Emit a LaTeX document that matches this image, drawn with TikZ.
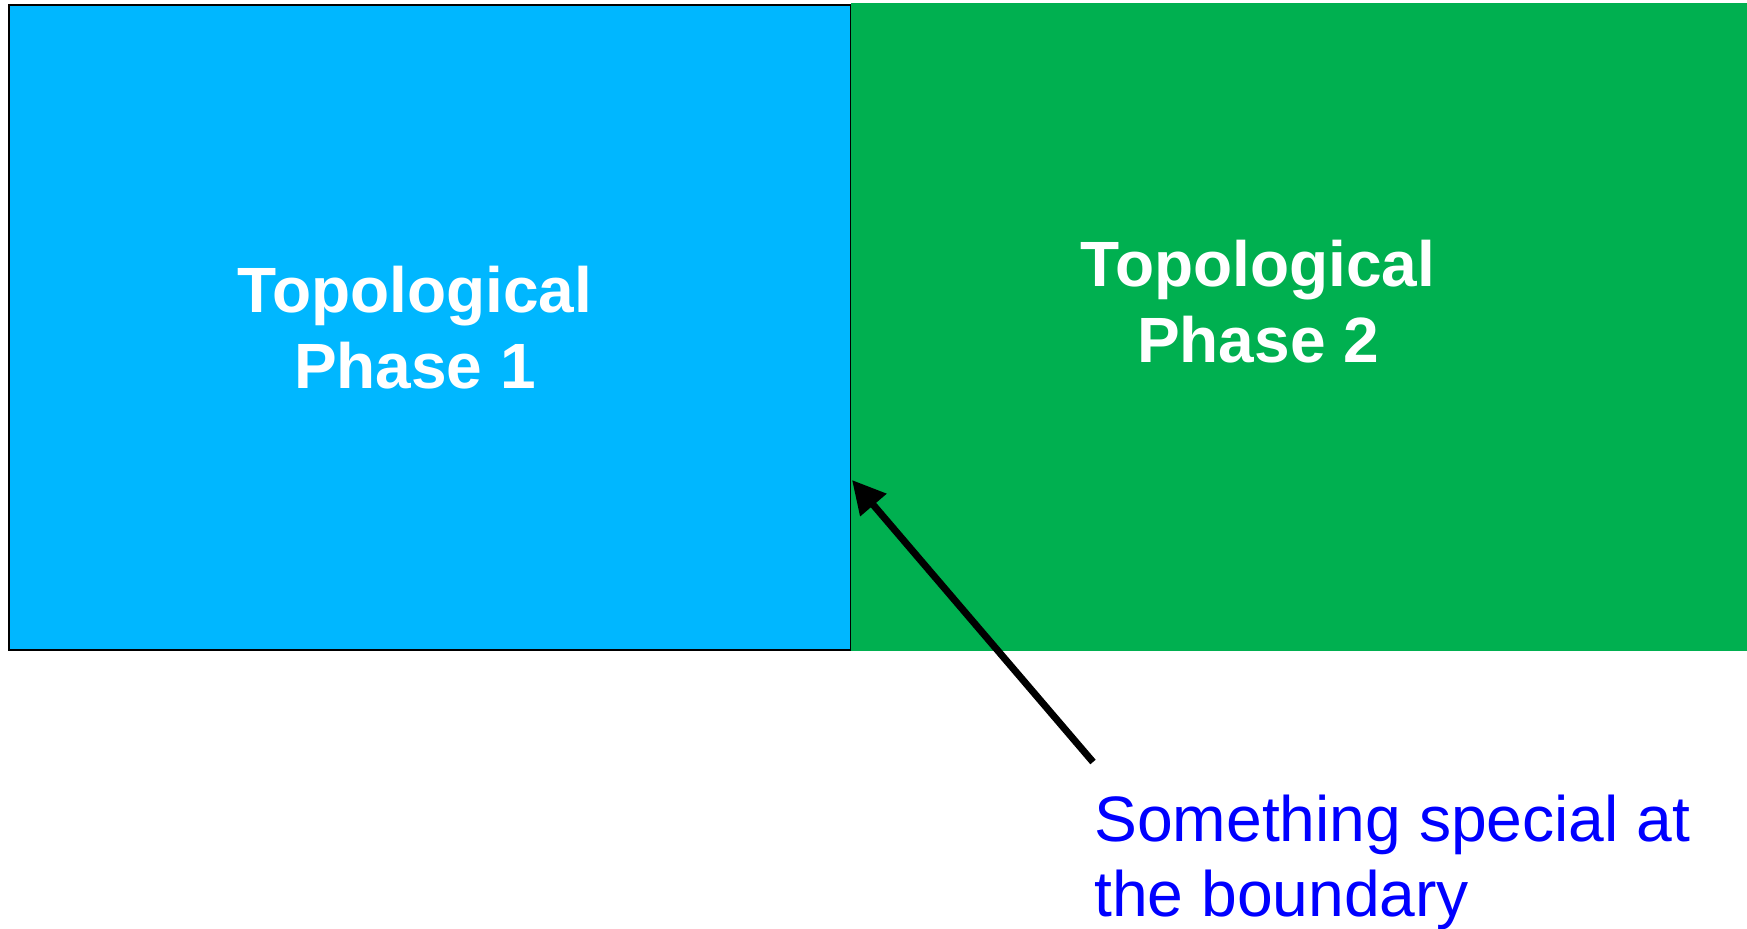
\documentclass[tikz,border=0pt]{standalone}
\usepackage{fontspec}
\setmainfont{Liberation Sans}
\usetikzlibrary{arrows.meta}
\definecolor{phaseblue}{RGB}{0,183,255}
\definecolor{phasegreen}{RGB}{0,176,80}
\definecolor{notecolor}{RGB}{0,0,255}

\tikzset{
    phase/.style={text=white, font=\fontsize{32}{38}\selectfont\bfseries, align=center, inner sep=0pt},
    note/.style={text=notecolor, font=\fontsize{32.1}{37.5}\selectfont, align=left, inner sep=0pt}
}

\begin{document}
\begin{tikzpicture}[x=0.5pt,y=-0.5pt]
    \useasboundingbox (0,0) rectangle (1747,929);

    \draw [fill=phaseblue, line width=1pt] (9,5) rectangle (851,650);
    \fill [phasegreen] (851,3) rectangle (1747,651);

    \node [phase, anchor=base] (phase1) at (415,389) {Topological\\Phase 1};
    \node [phase, anchor=base] (phase2) at (1258,363) {Topological\\Phase 2};

    \node [note, anchor=base west] (special) at (1094,917) {Something special at\\the boundary};

    \coordinate (tip) at (852,480);
    \coordinate (tail) at (1093,762);
    \draw [line width=3.5pt, -{Triangle[length=16.5pt,width=16.5pt]}] (tail) -- (tip);
\end{tikzpicture}
\end{document}
